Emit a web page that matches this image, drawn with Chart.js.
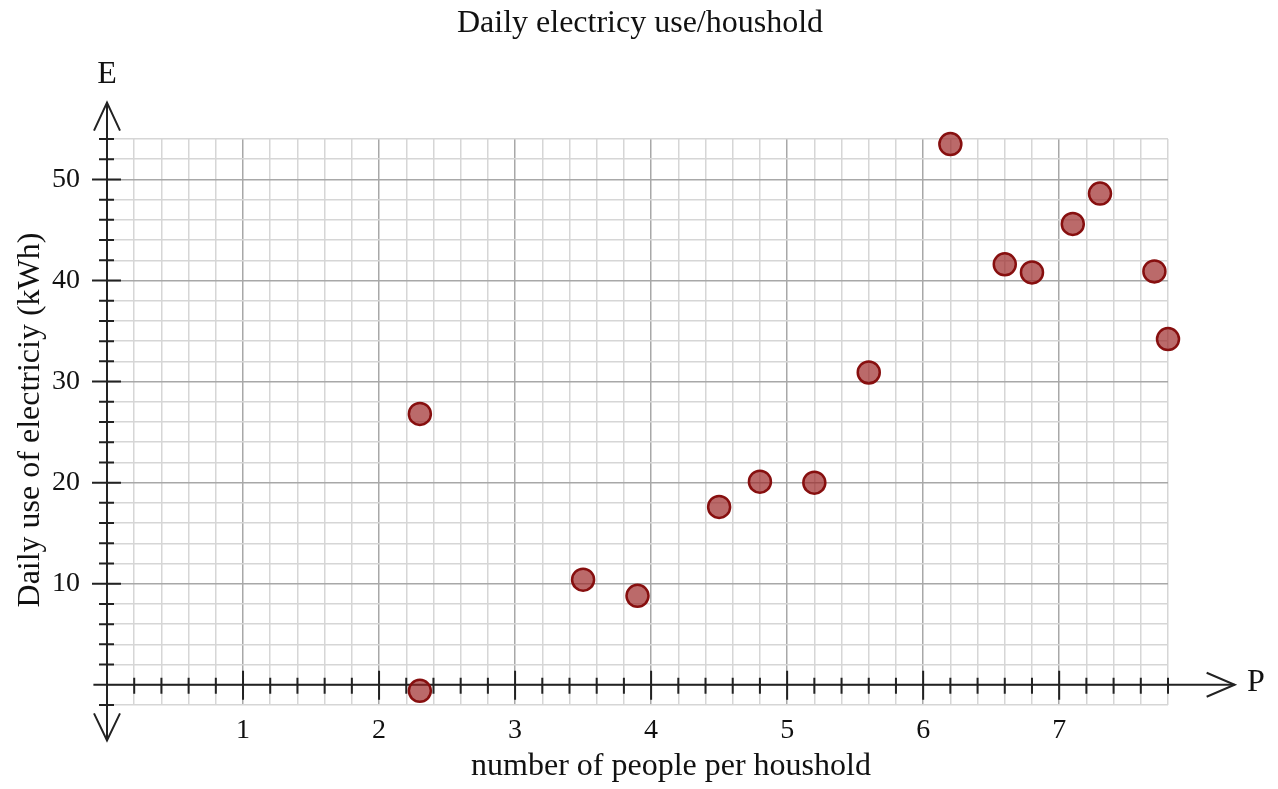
<!DOCTYPE html>
<html>
<head>
<meta charset="utf-8">
<script src="https://cdn.jsdelivr.net/npm/chart.js@4.4.1/dist/chart.umd.min.js"></script>
<style>
  html, body { margin: 0; padding: 0; background: #fff; }
  #wrap { width: 1278px; height: 789px; }
</style>
</head>
<body>
<div id="wrap"><canvas id="c" width="1278" height="789"></canvas></div>
<script>
// ---- data ----
const people = [2.3, 2.3, 3.5, 3.9, 4.5, 4.8, 5.2, 5.6, 6.2, 6.6, 6.8, 7.1, 7.3, 7.7, 7.8];
const energy = [26.8, -0.6, 10.4, 8.8, 17.6, 20.1, 20.0, 30.9, 53.5, 41.6, 40.8, 45.6, 48.6, 40.9, 34.2];
const xTickLabels = [1, 2, 3, 4, 5, 6, 7];
const yTickLabels = [10, 20, 30, 40, 50];

const chartTitle = 'Daily electricy use/houshold';
const xTitle = 'number of people per houshold';
const yTitle = 'Daily use of electriciy (kWh)';
const xAxisName = 'P';
const yAxisName = 'E';

// ---- styles ----
const SERIF = '"Liberation Serif", "Times New Roman", serif';
const axisColor = '#222';
const minorGrid = 'rgb(214,214,214)';
const majorGrid = 'rgb(168,168,168)';

const isInt = v => Math.abs(v - Math.round(v)) < 1e-6;

const axesPlugin = {
  id: 'axesPlugin',
  beforeDatasetsDraw(chart) {
    const ctx = chart.ctx;
    const xs = chart.scales.x, ys = chart.scales.y;
    const x0 = xs.getPixelForValue(0);
    const y0 = ys.getPixelForValue(0);
    const top = ys.getPixelForValue(57.6);
    const bottom = ys.getPixelForValue(-5.5);
    const left = xs.getPixelForValue(-0.1);
    const right = xs.getPixelForValue(8.29);
    ctx.save();
    ctx.strokeStyle = axisColor;
    ctx.lineWidth = 2;
    ctx.lineCap = 'butt';
    // y axis
    ctx.beginPath(); ctx.moveTo(x0, top); ctx.lineTo(x0, bottom); ctx.stroke();
    // x axis
    ctx.beginPath(); ctx.moveTo(left, y0); ctx.lineTo(right, y0); ctx.stroke();
    // arrows
    ctx.beginPath();
    ctx.moveTo(x0 - 13, top + 28); ctx.lineTo(x0, top); ctx.lineTo(x0 + 13, top + 28);
    ctx.moveTo(x0 - 13, bottom - 27); ctx.lineTo(x0, bottom); ctx.lineTo(x0 + 13, bottom - 27);
    ctx.moveTo(right - 28, y0 - 12); ctx.lineTo(right, y0); ctx.lineTo(right - 28, y0 + 12);
    ctx.stroke();
    // y ticks
    ctx.beginPath();
    ys.ticks.forEach(t => {
      if (Math.abs(t.value) < 1e-6) return;
      const p = ys.getPixelForValue(t.value);
      const major = Math.abs(t.value % 10) < 1e-6;
      ctx.moveTo(x0 - (major ? 15 : 8), p); ctx.lineTo(x0 + (major ? 14 : 7), p);
    });
    // x ticks
    xs.ticks.forEach(t => {
      if (Math.abs(t.value) < 1e-6) return;
      const p = xs.getPixelForValue(t.value);
      const major = isInt(t.value);
      ctx.moveTo(p, y0 - (major ? 14 : 7)); ctx.lineTo(p, y0 + (major ? 15 : 9));
    });
    ctx.stroke();
    ctx.restore();
  },
  afterDraw(chart) {
    const ctx = chart.ctx;
    const xs = chart.scales.x, ys = chart.scales.y;
    const x0 = xs.getPixelForValue(0);
    const y0 = ys.getPixelForValue(0);
    const area = chart.chartArea;
    ctx.save();
    ctx.fillStyle = '#111';
    ctx.font = '32px ' + SERIF;
    ctx.textBaseline = 'alphabetic';
    ctx.textAlign = 'center';
    ctx.fillText(chartTitle, 640, 32);
    ctx.fillText(xTitle, 671, 775);
    ctx.fillText(yAxisName, x0, 83);
    ctx.textAlign = 'left';
    ctx.textBaseline = 'middle';
    ctx.fillText(xAxisName, 1247, y0 - 2);
    ctx.translate(39, (area.top + area.bottom) / 2 - 2);
    ctx.rotate(-Math.PI / 2);
    ctx.textAlign = 'center';
    ctx.textBaseline = 'alphabetic';
    ctx.fillText(yTitle, 0, 0);
    ctx.restore();
  }
};

new Chart(document.getElementById('c'), {
  type: 'scatter',
  data: {
    datasets: [{
      data: people.map((p, i) => ({ x: p, y: energy[i] })),
      backgroundColor: 'rgba(155,35,35,0.68)',
      borderColor: 'rgb(135,15,15)',
      borderWidth: 2.5,
      pointRadius: 11,
      pointHoverRadius: 11,
      clip: false
    }]
  },
  options: {
    responsive: false,
    animation: false,
    devicePixelRatio: 1,
    layout: { padding: { top: 139, right: 110, bottom: 0, left: 0 } },
    plugins: { legend: { display: false }, title: { display: false }, tooltip: { enabled: false } },
    scales: {
      x: {
        type: 'linear',
        min: 0, max: 7.8,
        afterFit(s) { s.height = 84; },
        border: { display: false },
        grid: {
          drawTicks: false,
          color: c => isInt(c.tick.value) ? majorGrid : minorGrid,
          lineWidth: 1.5
        },
        ticks: {
          stepSize: 0.2,
          autoSkip: false,
          maxRotation: 0,
          padding: 9,
          color: '#111',
          font: { family: SERIF, size: 28 },
          callback: v => (isInt(v) && xTickLabels.includes(Math.round(v))) ? String(Math.round(v)) : ''
        }
      },
      y: {
        type: 'linear',
        min: -2, max: 54,
        afterFit(s) { s.width = 107; },
        border: { display: false },
        grid: {
          drawTicks: false,
          color: c => (Math.abs(c.tick.value % 10) < 1e-6) ? majorGrid : minorGrid,
          lineWidth: 1.5
        },
        ticks: {
          stepSize: 2,
          autoSkip: false,
          padding: 27,
          color: '#111',
          font: { family: SERIF, size: 28 },
          callback: v => yTickLabels.includes(v) ? String(v) : ''
        }
      }
    }
  },
  plugins: [axesPlugin]
});
</script>
</body>
</html>
